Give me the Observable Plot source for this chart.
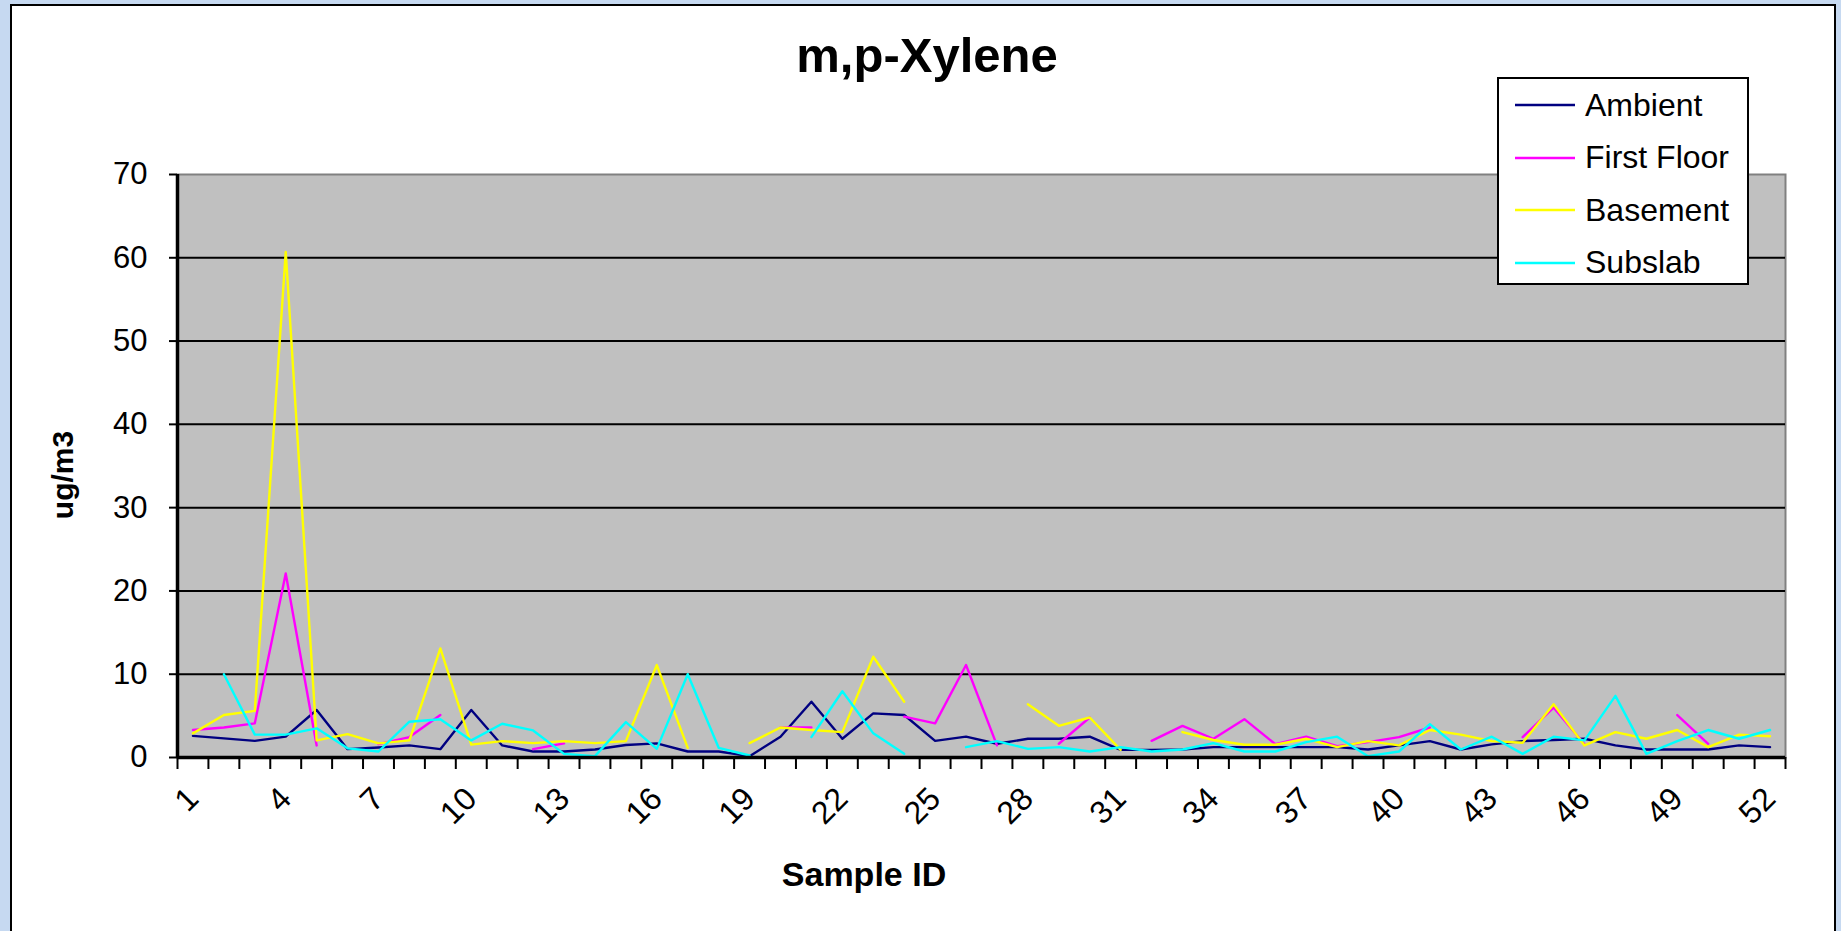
<!DOCTYPE html>
<html>
<head>
<meta charset="utf-8">
<script src="https://cdn.jsdelivr.net/npm/d3@7"></script>
<script src="https://cdn.jsdelivr.net/npm/@observablehq/plot@0.6"></script>
<style>
  html, body { margin: 0; padding: 0; width: 1841px; height: 931px; overflow: hidden; background: #C6D9F1; font-family: "Liberation Sans", Arial, sans-serif; }
  #frame { position: absolute; left: 10px; top: 4px; width: 1822px; height: 940px; border: 2px solid #000; background: #fff; }
  #chart { position: absolute; left: 0; top: 0; }
  .title { position: absolute; left: 627px; width: 600px; top: 27px; text-align: center; font-weight: bold; font-size: 49px; line-height: 56px; }
  .xlabel { position: absolute; left: 664px; width: 400px; top: 854px; text-align: center; font-weight: bold; font-size: 34px; line-height: 40px; }
  .ylabel { position: absolute; left: 63px; top: 475px; transform: translate(-50%, -50%) rotate(-90deg); font-weight: bold; font-size: 30px; line-height: 34px; white-space: nowrap; }
  #legend { position: absolute; left: 1497px; top: 77px; width: 248px; height: 204px; border: 2px solid #000; background: #fff; }
  .lg { position: absolute; left: 16px; height: 36px; display: flex; align-items: center; font-size: 32px; white-space: nowrap; }
  .lg svg { margin-right: 10px; }
</style>
</head>
<body>
<div id="frame"></div>
<div id="chart"></div>
<div class="title">m,p-Xylene</div>
<div class="xlabel">Sample ID</div>
<div class="ylabel">ug/m3</div>
<div id="legend"></div>
<script>
const sampleIds = d3.range(1, 53);
const seriesNames = ["Ambient", "First Floor", "Basement", "Subslab"];
const seriesColors = ["#000080", "#FF00FF", "#FFFF00", "#00FFFF"];
const yTicks = [0, 10, 20, 30, 40, 50, 60, 70];
const xTickLabels = [1, 4, 7, 10, 13, 16, 19, 22, 25, 28, 31, 34, 37, 40, 43, 46, 49, 52];

const ambient = [2.6, 2.3, 2.0, 2.5, 5.7, 1.0, 1.2, 1.45, 1.0, 5.7,
  1.45, 0.72, 0.72, 0.96, 1.5, 1.7, 0.72, 0.72, 0.16, 2.5,
  6.7, 2.25, 5.3, 5.1, 2.0, 2.5, 1.65, 2.25, 2.25, 2.5,
  0.92, 0.92, 0.96, 1.24, 1.24, 1.24, 1.24, 1.24, 0.96, 1.45,
  1.97, 0.96, 1.57, 1.97, 2.1, 2.25, 1.45, 0.96, 0.96, 0.96,
  1.45, 1.24];
const firstFloor = [3.3, 3.6, 4.1, 22.1, 1.45, null, 1.6, 2.45, 5.1, null,
  null, 1.0, 1.7, null, null, null, null, null, null, 3.6,
  3.6, null, null, 4.9, 4.1, 11.1, 1.45, null, 1.65, 4.8,
  null, 2.0, 3.8, 2.25, 4.6, 1.6, 2.5, 1.35, 1.85, 2.45,
  3.6, null, null, 2.45, 6.0, 1.6, null, null, 5.1, 1.65,
  null, null];
const basement = [2.9, 5.1, 5.6, 60.7, 2.05, 2.8, 1.7, 2.05, 13.1, 1.55,
  1.97, 1.73, 1.97, 1.73, 1.97, 11.1, 1.16, null, 1.73, 3.6,
  3.3, 3.05, 12.1, 6.7, null, null, null, 6.4, 3.8, 4.8,
  0.92, null, 3.05, 2.1, 1.53, 1.53, 2.25, 1.24, 1.97, 1.45,
  3.3, 2.75, 1.97, 1.77, 6.4, 1.45, 3.05, 2.25, 3.3, 1.24,
  2.75, 2.55];
const subslab = [null, 10.0, 2.75, 2.75, 3.5, 1.1, 0.72, 4.3, 4.6, 2.05,
  4.05, 3.25, 0.44, 0.16, 4.25, 1.04, 10.0, 1.16, 0.24, null,
  2.45, 7.95, 2.9, 0.44, null, 1.24, 1.97, 1.04, 1.24, 0.72,
  1.24, 0.72, 0.96, 1.73, 0.72, 0.72, 1.85, 2.5, 0.16, 0.72,
  4.0, 0.96, 2.5, 0.44, 2.5, 2.05, 7.4, 0.44, 1.97, 3.3,
  2.25, 3.3];

const seriesValues = [ambient, firstFloor, basement, subslab];
const rows = [];
seriesNames.forEach((name, s) => {
  sampleIds.forEach((id, i) => rows.push({series: name, id, value: seriesValues[s][i]}));
});

const boundaries = d3.range(0.5, sampleIds.length + 1, 1);

const lineMarks = seriesNames.map((name, s) =>
  Plot.line(rows.filter(d => d.series === name), {x: "id", y: "value", stroke: seriesColors[s], strokeWidth: 2.4})
);

const chart = Plot.plot({
  width: 1841,
  height: 931,
  marginLeft: 177,
  marginRight: 56,
  marginTop: 174,
  marginBottom: 174,
  style: {background: "transparent", fontFamily: "'Liberation Sans', Arial, sans-serif", color: "#000", overflow: "visible"},
  x: {type: "linear", domain: [0.5, sampleIds.length + 0.5]},
  y: {domain: [0, 70]},
  marks: [
    Plot.frame({fill: "#C0C0C0", stroke: "#808080", strokeWidth: 2}),
    Plot.ruleY(yTicks.filter(v => v > 0 && v < 70), {stroke: "#000", strokeWidth: 2}),
    ...lineMarks,
    Plot.ruleX([0.5], {stroke: "#000", strokeWidth: 3.5}),
    Plot.ruleY([0], {stroke: "#000", strokeWidth: 3.5}),
    Plot.axisY({ticks: yTicks, tickSize: 8, tickPadding: 22, fontSize: 31, label: null, strokeWidth: 2}),
    Plot.axisX({ticks: boundaries, tickSize: 12, tickFormat: () => "", label: null, strokeWidth: 2}),
    Plot.axisX({ticks: xTickLabels, tickSize: 0, tickPadding: 36, tickRotate: -45, fontSize: 32, label: null, tickFormat: d => String(d)})
  ]
});
document.getElementById("chart").appendChild(chart);

const legend = document.getElementById("legend");
seriesNames.forEach((name, s) => {
  const row = document.createElement("div");
  row.className = "lg";
  row.style.top = (8 + s * 52.5) + "px";
  row.innerHTML = `<svg width="60" height="6"><line x1="0" y1="3" x2="60" y2="3" stroke="${seriesColors[s]}" stroke-width="2.5"/></svg><span>${name}</span>`;
  legend.appendChild(row);
});
</script>
</body>
</html>
